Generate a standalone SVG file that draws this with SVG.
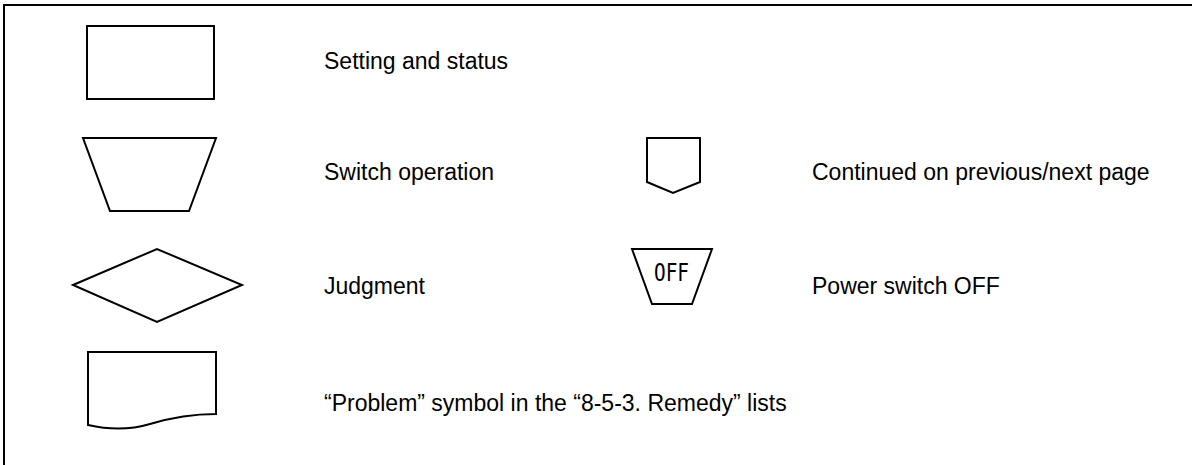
<svg xmlns="http://www.w3.org/2000/svg" width="1192" height="465" viewBox="0 0 1192 465">
<style>
.s{fill:#fff;stroke:#000;stroke-width:2;stroke-linejoin:miter}
.t{font-family:"Liberation Sans",Arial,sans-serif;font-size:23px;fill:#000}
.o{font-family:"DejaVu Sans Mono","Liberation Mono",monospace;font-size:25px;fill:#000}
</style>
<rect x="0" y="0" width="1192" height="465" fill="#fff"/>
<rect id="frame" x="4" y="5" width="1200" height="480" fill="none" stroke="#000" stroke-width="2"/>
<g id="process"><rect class="s" x="87" y="26" width="127" height="73"/></g>
<g id="switch"><polygon class="s" points="83,138 216,138 189,211 110,211"/></g>
<g id="judgment"><polygon class="s" points="73,285 157,249 242,285 157,322"/></g>
<g id="problem"><path class="s" d="M88,352 H216 V414 C190,414 170,418 150,424 C130,430 110,430 88,425 Z"/></g>
<g id="continued"><polygon class="s" points="647,138 700,138 700,182 673,193 647,182"/></g>
<g id="poweroff"><polygon class="s" points="632,249 712,249 692,304 652,304"/><text class="o" x="671.5" y="281" text-anchor="middle" textLength="35" lengthAdjust="spacingAndGlyphs">OFF</text></g>
<g id="labels">
<text class="t" x="324" y="69">Setting and status</text>
<text class="t" x="324" y="180">Switch operation</text>
<text class="t" x="324" y="294">Judgment</text>
<text class="t" x="324" y="411">“Problem” symbol in the “8-5-3. Remedy” lists</text>
<text class="t" x="812" y="180">Continued on previous/next page</text>
<text class="t" x="812" y="294">Power switch OFF</text>
</g>
<g id="connectors"></g>
</svg>
